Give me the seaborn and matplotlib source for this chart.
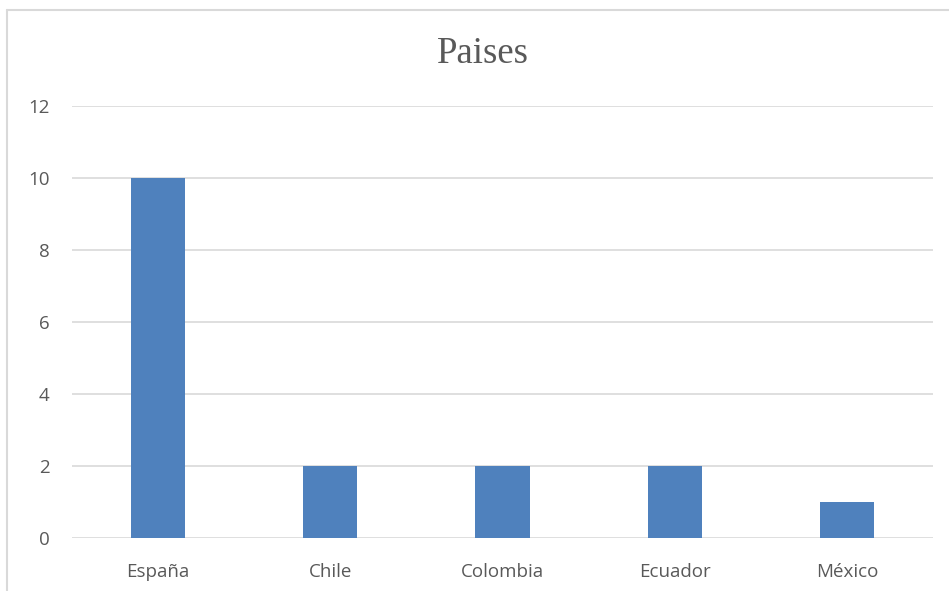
import matplotlib
matplotlib.use("Agg")
import matplotlib.pyplot as plt
import seaborn as sns
import pandas as pd

paises = ["España", "Chile", "Colombia", "Ecuador", "México"]
valores = [10, 2, 2, 2, 1]

sns.set_style("white")
plt.rcParams['font.family'] = ['Open Sans', 'DejaVu Sans']

df = pd.DataFrame({"pais": paises, "valor": valores})

fig = plt.figure(figsize=(9.49, 5.91), dpi=100)
ax = fig.add_axes([72/949, 1-538/591, (933-72)/949, (538-106)/591])

sns.barplot(data=df, x="pais", y="valor", color="#4F81BD", saturation=1,
            width=0.314, linewidth=0, ax=ax)

ax.set_ylim(0, 12)
ax.set_yticks(range(0, 13, 2))
ax.grid(axis="y", color="#D9D9D9", linewidth=1.2)
ax.set_axisbelow(True)
for s in ax.spines.values():
    s.set_visible(False)
ax.set_xlabel("")
ax.set_ylabel("")
ax.tick_params(axis="both", length=0, labelsize=13.5, colors="#595959")
ax.tick_params(axis="y", pad=16)
ax.tick_params(axis="x", pad=18)

fig.text(483/949, 1-54/591, "Paises", ha="center", va="center",
         fontsize=26.5, color="#595959", family="Liberation Serif")

# chart frame (only top and left visible)
fig.add_artist(plt.Line2D([7/949, 7/949], [0, 1-10/591], color="#D9D9D9", lw=1.5))
fig.add_artist(plt.Line2D([7/949, 1], [1-10/591, 1-10/591], color="#D9D9D9", lw=1.5))

fig.savefig("out.png", dpi=100)
